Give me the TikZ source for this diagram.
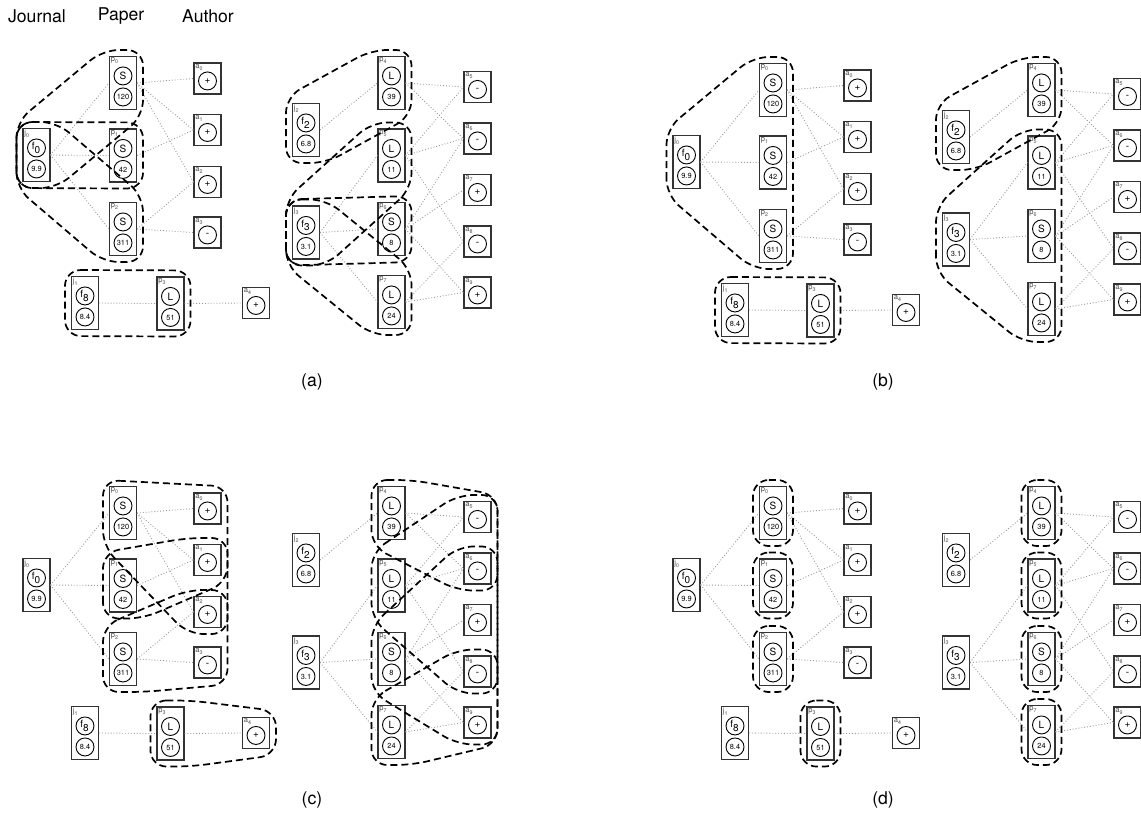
\documentclass[tikz,border=0pt]{standalone}
\usepackage{fontspec}
\setmainfont{TeX Gyre Heros}
\usepackage{tikz}

% padded corner points around a box, used by the dashed hulls
\newcommand{\hullcorners}[1]{%
  \coordinate (#1-nw) at ([shift={(-6,-6)}]#1.north west);
  \coordinate (#1-ne) at ([shift={(6,-6)}]#1.north east);
  \coordinate (#1-se) at ([shift={(6,6)}]#1.south east);
  \coordinate (#1-sw) at ([shift={(-6,6)}]#1.south west);}

% journal / paper box: name, x, y, tag, upper, lower
\newcommand{\tallbox}[6]{%
  \node[tallbox] (#1) at ({\ox+#2},{\oy+#3}) {};
  \node[tag] (#1-tag) at ([shift={(1.5,1.5)}]#1.north west) {#4};
  \node[ball] (#1-up) at ([shift={(0,20)}]#1.north) {#5};
  \node[ball,num] (#1-lo) at ([shift={(0,41)}]#1.north) {#6};
  \hullcorners{#1}}

% author box: name, x, y, tag, sign
\newcommand{\authbox}[5]{%
  \node[authbox] (#1) at ({\ox+#2},{\oy+#3}) {};
  \node[tag] (#1-tag) at ([shift={(1.5,1.5)}]#1.north west) {#4};
  \node[ball] (#1-sg) at ([shift={(0,18.5)}]#1.north) {#5};
  \hullcorners{#1}}

% one copy of the graph: prefix, x offset, y offset
\newcommand{\graphpanel}[3]{%
  \def\ox{#2}\def\oy{#3}%
  \tallbox{#1j0}{36.5}{155}{j\textsubscript{0}}{f\textsubscript{0}}{9.9}
  \tallbox{#1j1}{85}{303}{j\textsubscript{1}}{f\textsubscript{8}}{8.4}
  \tallbox{#1j2}{306}{130}{j\textsubscript{2}}{f\textsubscript{2}}{6.8}
  \tallbox{#1j3}{306}{232.5}{j\textsubscript{3}}{f\textsubscript{3}}{3.1}
  \tallbox{#1p0}{123}{83}{p\textsubscript{0}}{S}{120}
  \tallbox{#1p1}{123}{155.5}{p\textsubscript{1}}{S}{42}
  \tallbox{#1p2}{123}{229}{p\textsubscript{2}}{S}{311}
  \tallbox{#1p3}{170.5}{303.5}{p\textsubscript{3}}{L}{51}
  \tallbox{#1p4}{391.5}{83}{p\textsubscript{4}}{L}{39}
  \tallbox{#1p5}{391.5}{155.5}{p\textsubscript{5}}{L}{11}
  \tallbox{#1p6}{391.5}{229}{p\textsubscript{6}}{S}{8}
  \tallbox{#1p7}{391.5}{302}{p\textsubscript{7}}{L}{24}
  \authbox{#1a0}{207.5}{78.5}{a\textsubscript{0}}{+}
  \authbox{#1a1}{207.5}{130}{a\textsubscript{1}}{+}
  \authbox{#1a2}{207.5}{182}{a\textsubscript{2}}{+}
  \authbox{#1a3}{207.5}{232.5}{a\textsubscript{3}}{-}
  \authbox{#1a4}{256}{303}{a\textsubscript{4}}{+}
  \authbox{#1a5}{477.5}{87}{a\textsubscript{5}}{-}
  \authbox{#1a6}{477.5}{138.5}{a\textsubscript{6}}{-}
  \authbox{#1a7}{477.5}{190}{a\textsubscript{7}}{+}
  \authbox{#1a8}{477.5}{241.5}{a\textsubscript{8}}{-}
  \authbox{#1a9}{477.5}{292.5}{a\textsubscript{9}}{+}
  \foreach \u/\v in {j0/p0,j0/p1,j0/p2,j1/p3,j2/p4,j3/p5,j3/p6,j3/p7,
      p0/a0,p0/a1,p0/a2,p1/a1,p2/a2,p2/a3,p3/a4,
      p4/a5,p4/a6,p5/a5,p5/a6,p5/a8,p6/a6,p6/a7,p6/a9,p7/a8,p7/a9}
    \draw[edge] (#1\u.east) -- (#1\v.west);}

\begin{document}
\begin{tikzpicture}[
x=0.5pt,y=-0.5pt,
tallbox/.style={draw=black!80,line width=0.55pt,minimum width=13.5pt,minimum height=26.5pt,inner sep=0pt},
authbox/.style={draw=black!80,line width=0.55pt,minimum width=13.5pt,minimum height=15.5pt,inner sep=0pt},
ball/.style={draw,circle,line width=0.45pt,minimum size=9pt,inner sep=0pt,font=\fontsize{5}{5}\selectfont},
num/.style={font=\fontsize{3.7}{4}\selectfont},
tag/.style={anchor=north west,inner sep=0pt,text=black!70,font=\fontsize{3.8}{4}\selectfont},
edge/.style={black!40,densely dotted,line width=0.45pt},
hull/.style={black,line width=0.85pt,dash pattern=on 3.5pt off 2pt,rounded corners=8pt},
head/.style={font=\fontsize{8.8}{10}\selectfont}
]
\useasboundingbox (0,0) rectangle (1141,825);

\node[head] (journalhead) at (37,16) {Journal};
\node[head] (paperhead) at (121,16) {Paper};
\node[head] (authorhead) at (208,16) {Author};

\graphpanel{a}{0}{0}
\graphpanel{b}{650}{7}
\graphpanel{c}{0}{430}
\graphpanel{d}{650}{430}

% (a) journal-paper pairs
\draw[hull] (aj0-sw) -- (aj0-nw) -- (ap0-nw) -- (ap0-ne) -- (ap0-se) -- (aj0-se) -- cycle;
\draw[hull] (aj0-nw) -- (ap1-ne) -- (ap1-se) -- (aj0-sw) -- cycle;
\draw[hull] (aj0-nw) -- (aj0-ne) -- (ap2-ne) -- (ap2-se) -- (ap2-sw) -- (aj0-sw) -- cycle;
\draw[hull] (aj1-nw) -- (ap3-ne) -- (ap3-se) -- (aj1-sw) -- cycle;
\draw[hull] (aj2-sw) -- (aj2-nw) -- (ap4-nw) -- (ap4-ne) -- (ap4-se) -- (aj2-se) -- cycle;
\draw[hull] (aj3-sw) -- (aj3-nw) -- (ap5-nw) -- (ap5-ne) -- (ap5-se) -- (aj3-se) -- cycle;
\draw[hull] (aj3-nw) -- (ap6-ne) -- (ap6-se) -- (aj3-sw) -- cycle;
\draw[hull] (aj3-nw) -- (aj3-ne) -- (ap7-ne) -- (ap7-se) -- (ap7-sw) -- (aj3-sw) -- cycle;

% (b) journal with its papers
\draw[hull] (bj0-sw) -- (bj0-nw) -- (bp0-nw) -- (bp0-ne) -- (bp2-se) -- (bp2-sw) -- cycle;
\draw[hull] (bj1-nw) -- (bp3-ne) -- (bp3-se) -- (bj1-sw) -- cycle;
\draw[hull] (bj2-sw) -- (bj2-nw) -- (bp4-nw) -- (bp4-ne) -- (bp4-se) -- (bj2-se) -- cycle;
\draw[hull] (bj3-sw) -- (bj3-nw) -- (bp5-nw) -- (bp5-ne) -- (bp7-se) -- (bp7-sw) -- cycle;

% (c) paper with its authors
\draw[hull] (cp0-nw) -- (ca0-ne) -- (ca2-se) -- (ca2-sw) -- (cp0-sw) -- cycle;
\draw[hull] (cp1-sw) -- (cp1-nw) -- (ca1-nw) -- (ca1-ne) -- (ca1-se) -- (cp1-se) -- cycle;
\draw[hull] (cp2-nw) -- (ca2-nw) -- (ca2-ne) -- (ca3-se) -- (cp2-se) -- (cp2-sw) -- cycle;
\draw[hull] (cp3-nw) -- (cp3-ne) -- (ca4-ne) -- (ca4-se) -- (cp3-se) -- (cp3-sw) -- cycle;
\draw[hull] (cp4-nw) -- (cp4-ne) -- (ca5-ne) -- (ca6-se) -- (ca6-sw) -- (cp4-sw) -- cycle;
\draw[hull] (cp5-nw) -- (ca5-nw) -- (ca5-ne) -- (ca8-se) -- (ca8-sw) -- (cp5-sw) -- cycle;
\draw[hull] (cp6-nw) -- (ca6-nw) -- (ca6-ne) -- (ca9-se) -- (ca9-sw) -- (cp6-sw) -- cycle;
\draw[hull] (cp7-nw) -- (ca8-nw) -- (ca8-ne) -- (ca9-se) -- (cp7-se) -- (cp7-sw) -- cycle;

% (d) single papers
\foreach \p in {0,...,7}
  \draw[hull] (dp\p-nw) -- (dp\p-ne) -- (dp\p-se) -- (dp\p-sw) -- cycle;

\node[head] (capa) at (312,382) {(a)};
\node[head] (capb) at (883,382) {(b)};
\node[head] (capc) at (312,800) {(c)};
\node[head] (capd) at (883,800) {(d)};
\end{tikzpicture}
\end{document}
